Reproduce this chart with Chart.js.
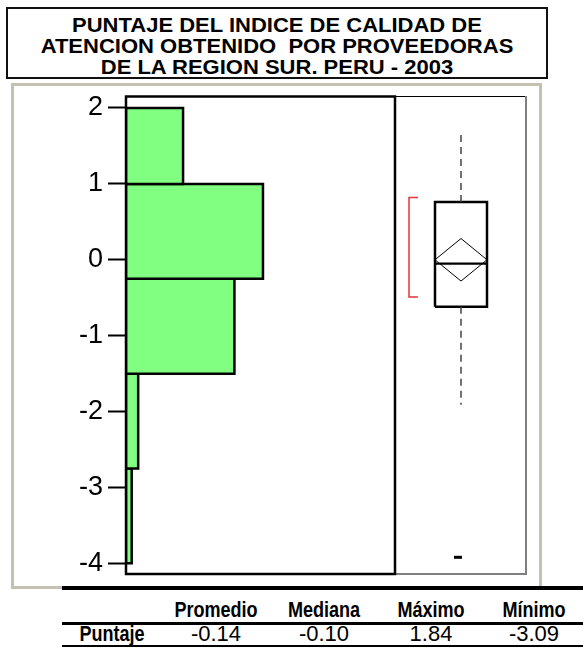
<!DOCTYPE html>
<html><head><meta charset="utf-8">
<script src="https://cdn.jsdelivr.net/npm/chart.js@4.4.0/dist/chart.umd.min.js"></script>
<style>
html,body{margin:0;padding:0;background:#fff;}
body{width:583px;height:655px;position:relative;overflow:hidden;font-family:"Liberation Sans",Arial,sans-serif;color:#000;}
#title{position:absolute;left:6px;top:7px;width:538px;height:68px;border:2px solid #111;}
#title .t{position:absolute;left:0;right:0;text-align:center;font-weight:bold;font-size:20px;transform:scaleX(1.1);transform-origin:50% 50%;white-space:pre;line-height:21px;}
#frame{position:absolute;left:11px;top:83px;width:525px;height:500px;border:3px solid #c4c0b2;}
#wrap{position:absolute;left:12px;top:85px;width:529px;height:503px;}
.hl{position:absolute;left:62px;right:0;background:#000;}
.cell{position:absolute;width:120px;margin-left:-60px;text-align:center;font-family:"Liberation Sans",Arial,sans-serif;font-size:21px;line-height:24px;white-space:nowrap;}
.b{font-weight:bold;font-size:22px;transform:scaleX(0.82);}
.v{font-size:22px;}
</style></head>
<body>
<div id="title"></div>
<div id="frame"></div>
<div id="wrap"><canvas id="c" width="529" height="503"></canvas></div>
<div class="hl" style="top:586px;height:4px"></div>
<div class="hl" style="top:622px;height:3px"></div>
<div class="hl" style="top:645px;height:2px"></div>
<div id="tbl"></div>
<script>
// ---- data ----
const titleLines = ['PUNTAJE DEL INDICE DE CALIDAD DE', 'ATENCION OBTENIDO  POR PROVEEDORAS', 'DE LA REGION SUR. PERU - 2003'];
const binEdges = [2, 1, -0.25, -1.5, -2.75, -4];
const binCounts = [15, 36, 28.5, 3.2, 1.5];
const yTicks = [2, 1, 0, -1, -2, -3, -4];
const boxQuartiles = [-0.62, 0.76];
const boxMedian = -0.05;
const boxWhiskers = [-1.91, 1.645];
const meanDiamond = [-0.28, 0.0, 0.28];
const shortestHalf = [-0.49, 0.82];
const outliers = [-3.92];
const tableHeaders = ['Promedio', 'Mediana', 'Máximo', 'Mínimo'];
const tableRowLabel = 'Puntaje';
const tableValues = ['-0.14', '-0.10', '1.84', '-3.09'];

// ---- title ----
const title = document.getElementById('title');
titleLines.forEach((s, i) => {
  const d = document.createElement('div');
  d.className = 't'; d.textContent = s; d.style.top = (6 + i * 21) + 'px';
  title.appendChild(d);
});

// ---- table ----
const colX = [112, 216, 324, 431, 534];
const tbl = document.getElementById('tbl');
function cell(txt, x, y, cls) {
  const d = document.createElement('div');
  d.className = 'cell ' + cls;
  d.textContent = txt; d.style.left = x + 'px'; d.style.top = y + 'px';
  tbl.appendChild(d);
}
tableHeaders.forEach((h, i) => cell(h, colX[i + 1], 598, 'b'));
cell(tableRowLabel, colX[0], 622, 'b');
tableValues.forEach((v, i) => cell(v, colX[i + 1], 622, 'v'));

// ---- chart ----
const GREEN = '#80ff80';
const BOX_C = 0.5, BOX_HW = 0.197, BR_X = [0.106, 0.174], OUT_X = 0.477;
const datasets = [];
binCounts.forEach((c, i) => {
  const a = binEdges[i], b = binEdges[i + 1];
  datasets.push({
    xAxisID: 'x', data: [{x:0,y:a},{x:c,y:a},{x:c,y:b},{x:0,y:b},{x:0,y:a}],
    fill: 'shape', backgroundColor: GREEN, borderColor: '#000', borderWidth: 2.5,
    pointRadius: 0, borderJoinStyle: 'miter', tension: 0
  });
});
const base = {xAxisID: 'xb', pointRadius: 0, fill: false, tension: 0, borderJoinStyle: 'miter'};
datasets.push({...base, data: [{x:BOX_C,y:boxQuartiles[1]},{x:BOX_C,y:boxWhiskers[1]}], borderColor: '#444', borderWidth: 1.5, borderDash: [7, 5]});
datasets.push({...base, data: [{x:BOX_C,y:boxQuartiles[0]},{x:BOX_C,y:boxWhiskers[0]}], borderColor: '#444', borderWidth: 1.5, borderDash: [7, 5]});
datasets.push({...base, data: [
  {x:BOX_C-BOX_HW,y:boxQuartiles[0]},{x:BOX_C+BOX_HW,y:boxQuartiles[0]},
  {x:BOX_C+BOX_HW,y:boxQuartiles[1]},{x:BOX_C-BOX_HW,y:boxQuartiles[1]},{x:BOX_C-BOX_HW,y:boxQuartiles[0]}],
  borderColor: '#000', borderWidth: 2.5});
datasets.push({...base, data: [{x:BOX_C-BOX_HW,y:boxMedian},{x:BOX_C+BOX_HW,y:boxMedian}], borderColor: '#000', borderWidth: 2.2});
datasets.push({...base, data: [
  {x:BOX_C-BOX_HW,y:meanDiamond[1]},{x:BOX_C,y:meanDiamond[2]},{x:BOX_C+BOX_HW,y:meanDiamond[1]},
  {x:BOX_C,y:meanDiamond[0]},{x:BOX_C-BOX_HW,y:meanDiamond[1]}], borderColor: '#000', borderWidth: 1});
datasets.push({...base, data: [
  {x:BR_X[1],y:shortestHalf[1]},{x:BR_X[0],y:shortestHalf[1]},{x:BR_X[0],y:shortestHalf[0]},{x:BR_X[1],y:shortestHalf[0]}],
  borderColor: '#e63535', borderWidth: 1.5});
datasets.push({xAxisID: 'xb', showLine: false, data: outliers.map(v => ({x: OUT_X, y: v})),
  pointStyle: 'line', pointRadius: 4, pointBorderWidth: 3, borderColor: '#000', backgroundColor: '#000'});

const framePlugin = {
  id: 'frames',
  afterDatasetsDraw(chart) {
    const {ctx, chartArea: a} = chart;
    const xd = chart.scales.xb.getPixelForValue(0);
    ctx.save();
    ctx.strokeStyle = '#000'; ctx.lineWidth = 1;
    ctx.beginPath(); ctx.moveTo(xd, a.top + 0.5); ctx.lineTo(a.right, a.top + 0.5); ctx.stroke();
    ctx.strokeStyle = '#7f7f7f'; ctx.lineWidth = 2;
    ctx.beginPath(); ctx.moveTo(xd, a.bottom); ctx.lineTo(a.right - 1, a.bottom); ctx.lineTo(a.right - 1, a.top); ctx.stroke();
    ctx.strokeStyle = '#000'; ctx.lineWidth = 2.5;
    ctx.strokeRect(a.left, a.top + 0.5, xd - a.left, a.bottom - a.top - 0.5);
    ctx.restore();
  }
};

Chart.defaults.font.family = '"Liberation Sans", Arial, sans-serif';
new Chart(document.getElementById('c'), {
  type: 'line',
  data: {datasets},
  options: {
    responsive: false, animation: false, devicePixelRatio: 1,
    layout: {padding: {left: 0, top: 11, right: 14, bottom: 14}},
    plugins: {legend: {display: false}, tooltip: {enabled: false}},
    scales: {
      x: {type: 'linear', min: 0, max: 105.4, display: false},
      xb: {type: 'linear', min: -2.038, max: 1, display: false},
      y: {
        type: 'linear', min: -4.14, max: 2.158,
        afterBuildTicks: s => { s.ticks = yTicks.map(v => ({value: v})); },
        afterFit: s => { s.width = 114; s.paddingTop = 0; s.paddingBottom = 0; },
        ticks: {color: '#000', font: {size: 27}, padding: 5},
        grid: {display: true, drawOnChartArea: false, drawTicks: true, tickLength: 18, tickWidth: 2, tickColor: '#000'},
        border: {display: false}
      }
    }
  },
  plugins: [framePlugin]
});
</script>
</body></html>
